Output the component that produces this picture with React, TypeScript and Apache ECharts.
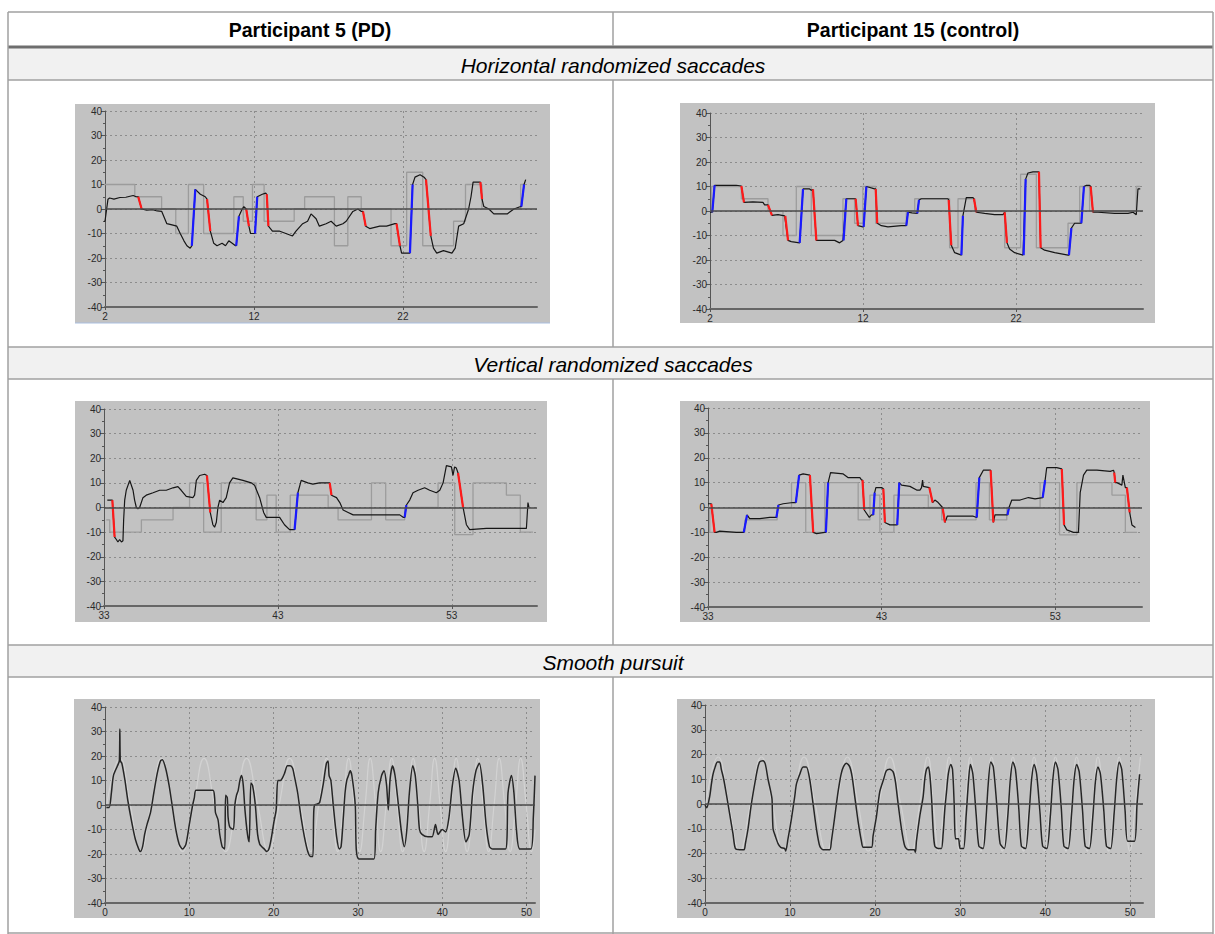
import { useEffect, useRef } from "react";
import * as echarts from "echarts";

type P = [number, number];
type S = [number, number, number, number];

const columnTitles = ["Participant 5 (PD)", "Participant 15 (control)"];
const rowTitles = ["Horizontal randomized saccades", "Vertical randomized saccades", "Smooth pursuit"];

// ---------- Horizontal randomized saccades, participant 5 (PD) ----------
const hTargetPD: P[] = [[1.86,10],[4.0,5],[5.8,0],[6.75,-10],[7.6,10],[8.62,-10],[10.65,5],[11.28,-5],[11.9,10],[12.68,-5],[14.7,0],[15.4,5],[17.4,-15],[18.3,5],[19.2,0],[21.2,-15],[22.25,15],[23.33,-15],[25.4,-5],[26.2,10],[27.3,0],[29.9,10],[30.15,10]];
const hEyePD: P[] = [[1.86,-5],[2.0,-5],[2.2,4],[2.31,4.5],[2.6,4],[3.0,4.7],[3.4,4.8],[3.89,5.5],[4.1,5],[4.23,5],[4.46,0],[4.8,-0.5],[5.2,-0.3],[5.5,-0.8],[5.81,-1],[6.15,-6],[6.5,-6.5],[6.82,-7],[7.05,-10],[7.3,-13],[7.5,-15],[7.72,-16],[7.83,-15],[8.06,8],[8.4,6],[8.73,5],[8.85,4],[9.07,-9],[9.3,-14],[9.52,-15],[9.86,-14],[10.09,-15],[10.31,-13],[10.54,-14],[10.76,-15],[10.81,-15],[10.99,-3],[11.21,0],[11.32,1],[11.48,0],[11.66,-7],[11.77,-10],[11.99,-10],[12.07,-10],[12.22,5],[12.56,6],[12.79,6.5],[12.86,6],[12.97,-7],[13.24,-9],[13.69,-9],[14.14,-10],[14.59,-11],[14.82,-9],[15.27,-6],[15.6,-5],[15.83,-2],[16.17,-4],[16.39,-7],[16.84,-6],[17.18,-5],[17.52,-7],[17.97,-6],[18.19,-5],[18.64,-1],[18.98,0],[19.21,-1],[19.32,-1],[19.5,-7],[19.77,-8],[20.45,-7],[20.9,-7],[21.46,-6],[21.57,-6],[21.8,-15],[21.91,-18],[22.47,-18],[22.65,10],[22.81,13],[23.15,14],[23.42,13],[23.55,12],[23.87,-11],[24.05,-16],[24.27,-18],[24.72,-17],[25.29,-18],[25.51,-16],[25.74,-7],[26.08,-6],[26.41,0],[26.57,5],[26.71,11],[27.2,11],[27.31,4],[27.43,1],[27.77,0],[28.1,-2],[29.0,-2],[29.45,0],[29.9,1],[29.95,1],[30.13,10],[30.24,12]];
const hRedPD: S[] = [[4.23,5,4.46,0],[8.85,4,9.07,-9],[11.48,0,11.66,-7],[12.86,6,12.97,-7],[19.32,-1,19.5,-7],[21.57,-6,21.8,-15],[23.55,12,23.87,-11],[27.2,11,27.31,4]];
const hBluePD: S[] = [[7.83,-15,8.06,8],[10.81,-15,10.99,-3],[12.07,-10,12.22,5],[22.47,-18,22.65,10],[29.95,1,30.13,10]];

// ---------- Horizontal randomized saccades, participant 15 (control) ----------
const hTargetCtl: P[] = [[2.0,0],[2.1,10],[4.05,5],[5.79,0],[6.77,-10],[7.64,10],[8.62,-10],[10.69,5],[11.45,-5],[11.99,10],[12.83,-5],[14.83,0],[15.38,5],[17.66,-15],[18.21,5],[19.3,0],[21.26,-15],[22.3,15],[23.33,-15],[25.4,-5],[26.16,10],[26.81,0],[29.86,10],[30.1,10]];
const hEyeCtl: P[] = [[2.0,-0.5],[2.15,-0.5],[2.3,10.5],[3.0,10.5],[3.72,10.5],[4.05,10.2],[4.22,3.5],[4.8,3.7],[5.46,3.5],[5.57,2.5],[5.79,2.5],[6.05,-1.8],[6.44,-1.5],[6.88,-2],[6.92,-2],[7.1,-12],[7.31,-12.5],[7.86,-13],[8.08,9],[8.51,9],[8.62,8.5],[8.73,8.8],[8.95,-12],[9.28,-12],[10.15,-12],[10.47,-13],[10.69,-12],[10.73,-12],[10.91,5],[11.45,5],[11.52,5],[11.67,-6],[11.99,-6.5],[12.04,-6.5],[12.22,10],[12.76,9],[12.83,9],[12.93,-5],[13.2,-6],[13.63,-6.5],[14.5,-6],[14.83,-6],[14.94,-0.5],[15.2,-0.8],[15.55,-1],[15.66,4.5],[15.81,5],[17.55,5],[17.6,4.5],[17.77,-14],[17.99,-17],[18.43,-18],[18.53,-2],[18.75,5.5],[19.19,5.5],[19.25,5],[19.41,-0.5],[19.95,-1],[20.6,-1.5],[21.15,-1.5],[21.26,-0.5],[21.41,-13],[21.58,-15.5],[21.91,-17],[22.46,-18],[22.5,-18],[22.63,13],[22.78,15.5],[23.11,16],[23.44,16],[23.5,16],[23.61,-15],[23.87,-16],[24.53,-17],[25.4,-18],[25.46,-18],[25.62,-7],[25.83,-5],[26.16,-5],[26.27,-5],[26.44,10],[26.6,10.5],[26.81,10.5],[26.88,10],[27.03,-0.5],[27.36,-0.5],[28.45,-1],[29.32,-1],[29.65,-0.5],[29.86,-1.5],[29.97,9],[30.12,9]];
const hRedCtl: S[] = [[4.05,10.2,4.22,3.5],[5.79,2.5,6.05,-1.8],[6.92,-2,7.1,-12],[8.73,8.8,8.95,-12],[11.52,5,11.67,-6],[12.83,9,12.93,-5],[17.6,4.5,17.77,-14],[19.25,5,19.41,-0.5],[21.26,-0.5,21.41,-13],[23.5,16,23.61,-15],[26.88,10,27.03,-0.5]];
const hBlueCtl: S[] = [[2.15,-0.5,2.3,10.5],[7.86,-13,8.08,9],[10.73,-12,10.91,5],[12.04,-6.5,12.22,10],[14.83,-6,14.94,-0.5],[15.55,-1,15.66,4.5],[18.43,-18,18.53,-2],[22.5,-18,22.63,13],[25.46,-18,25.62,-7],[26.27,-5,26.44,10]];

// ---------- Vertical randomized saccades, participant 5 (PD) ----------
const vTargetPD: P[] = [[33.13,-5],[33.33,-10],[35.15,-5],[36.97,0],[37.92,10],[38.73,-10],[39.74,10],[41.75,-5],[42.37,5],[42.9,-10],[43.71,5],[45.89,0],[46.46,-5],[48.38,10],[49.2,-5],[50.29,0],[52.21,10],[53.17,-11],[54.22,10],[56.14,5],[56.94,-10],[57.67,-10]];
const vEyePD: P[] = [[33.19,3],[33.48,3],[33.61,-12],[33.71,-13],[33.8,-14],[33.9,-13],[34.0,-14],[34.09,-13.5],[34.13,-5],[34.19,3],[34.28,7],[34.48,11],[34.67,7],[34.76,3],[34.86,0],[34.95,-0.5],[35.05,0],[35.24,4],[35.43,5],[35.82,6],[36.2,7],[36.58,7],[36.97,8],[37.25,8.5],[37.44,7],[37.73,4.5],[38.11,4],[38.21,5],[38.31,11],[38.5,13],[38.79,13.5],[38.92,13],[39.11,-2],[39.26,-7],[39.36,-8],[39.46,-6],[39.55,0],[39.65,3],[39.84,2],[40.03,4],[40.22,10],[40.41,12],[40.99,11],[41.47,10],[41.66,9],[41.95,4],[42.18,-2],[42.33,-4],[43.1,-4],[43.38,-7],[43.67,-9],[43.96,-9],[44.15,6],[44.34,11],[44.72,10],[45.01,9.5],[45.39,10],[45.89,10],[45.98,10],[46.08,5],[46.37,4],[46.56,2],[46.75,-1],[47.04,-2],[47.33,-3],[47.8,-3],[49.05,-3],[50.01,-3],[50.2,-4],[50.29,-4],[50.39,1],[50.58,3],[50.77,6],[51.06,7],[51.44,8],[51.73,7],[52.11,6],[52.31,7],[52.5,10],[52.69,17],[52.98,16.5],[53.07,13],[53.16,16.5],[53.26,16],[53.36,14],[53.65,0],[53.84,-7],[54.03,-9],[54.99,-8.5],[57.29,-8.5],[57.38,2],[57.44,0]];
const vRedPD: S[] = [[33.48,3,33.61,-12],[38.92,13,39.11,-2],[45.98,10,46.08,5],[53.36,14,53.65,0]];
const vBluePD: S[] = [[43.96,-9,44.15,6],[50.29,-4,50.39,1]];

// ---------- Vertical randomized saccades, participant 15 (control) ----------
const vTargetCtl: P[] = [[33.0,0],[33.1,-10],[35.12,-5],[36.98,0],[37.81,10],[38.63,-10],[39.73,10],[41.65,-5],[42.33,5],[42.9,-10],[43.71,5],[45.69,0],[46.46,-5],[48.44,10],[49.21,-5],[50.21,0],[52.13,10],[53.25,-11],[54.25,10],[56.27,5],[57.04,-10],[57.71,-10]];
const vEyeCtl: P[] = [[33.0,1.5],[33.19,1.5],[33.38,-10],[33.48,-10],[33.67,-9.5],[34.63,-10],[35.06,-10],[35.25,-3],[35.4,-4.5],[35.98,-4.5],[36.56,-4],[36.94,-4],[37.06,1],[37.33,1.5],[37.9,2],[38.06,2],[38.25,13],[38.48,13.5],[38.87,13],[39.06,-10],[39.25,-10.5],[39.73,-10],[39.79,-10],[39.92,10],[40.06,14],[40.79,13.5],[41.08,12],[41.75,12],[41.85,11],[41.9,11],[42.0,-1],[42.29,-4],[42.42,-3],[42.52,-3],[42.6,6],[42.67,8],[43.0,8],[43.1,7.5],[43.19,-6],[43.48,-7],[43.9,-7],[44.02,10],[44.15,9],[44.63,8.5],[45.02,7],[45.21,7],[45.3,8],[45.36,11],[45.4,8.5],[45.75,8],[45.94,2],[46.07,3],[46.26,2],[46.51,0],[46.65,-6],[46.78,-3.5],[48.28,-3.5],[48.48,-4],[48.63,12],[48.86,15],[49.28,15],[49.44,-6],[49.53,-3],[50.25,-3],[50.34,0],[50.5,3],[50.98,3],[51.46,4],[51.84,3.5],[52.28,4],[52.42,11],[52.51,16],[53.09,16],[53.38,15.5],[53.51,-7],[53.67,-9],[54.05,-10],[54.34,-10],[54.44,6],[54.63,13],[54.82,15],[55.4,15],[56.17,14.5],[56.36,15],[56.4,14],[56.46,10],[56.55,10],[56.84,9],[56.9,13],[57.04,8],[57.13,8],[57.29,-2],[57.42,-7],[57.62,-8]];
const vRedCtl: S[] = [[33.19,1.5,33.38,-10],[38.87,13,39.06,-10],[41.9,11,42.0,-1],[43.1,7.5,43.19,-6],[45.75,8,45.94,2],[46.51,0,46.65,-6],[49.28,15,49.44,-6],[53.38,15.5,53.51,-7],[56.4,14,56.46,10],[57.13,8,57.29,-2]];
const vBlueCtl: S[] = [[35.06,-10,35.25,-3],[36.94,-4,37.06,1],[38.06,2,38.25,13],[39.79,-10,39.92,10],[42.52,-3,42.6,6],[43.9,-7,44.02,10],[48.48,-4,48.63,12],[50.25,-3,50.34,0],[52.28,4,52.42,11]];

// ---------- Smooth pursuit, participant 5 (PD) ----------
const sTargetPD: P[] = [[0.2,0],[1.77,19],[3.0,0],[4.2,-19],[5.45,0],[6.7,19],[7.95,0],[9.2,-19],[10.5,0],[11.75,19],[13.0,0],[14.3,-19],[15.55,0],[16.8,19],[18.1,0],[19.4,-19],[20.65,0],[21.9,19],[23.15,0],[24.4,-19],[25.35,0],[26.3,19],[26.95,0],[27.6,-19],[28.25,0],[28.9,19],[29.55,0],[30.2,-19],[30.85,0],[31.45,19],[32.1,0],[32.7,-19],[33.35,0],[34.0,19],[34.65,0],[35.3,-19],[35.95,0],[36.55,19],[37.2,0],[37.85,-19],[38.5,0],[39.1,19],[39.75,0],[40.4,-19],[41.05,0],[41.65,19],[42.3,0],[42.95,-19],[43.6,0],[44.2,19],[44.85,0],[45.5,-19],[46.15,0],[46.75,19],[47.4,0],[48.05,-19],[48.7,0],[49.3,19],[49.95,0],[50.6,-19],[51.0,-10]];
const sEyePD: P[] = [[0.16,-1],[0.5,-1],[0.76,5],[1.0,12],[1.48,16],[1.7,18],[1.76,31],[1.82,18],[2.0,17],[2.37,10],[2.7,2],[3.17,-7],[3.6,-14],[4.0,-18],[4.2,-19],[4.46,-17],[4.7,-12],[4.98,-8],[5.4,-3],[5.79,5],[6.2,13],[6.58,18],[6.8,18.5],[7.19,15],[7.6,8],[8.0,-1],[8.4,-10],[8.8,-16],[9.2,-18],[9.6,-16],[10.0,-8],[10.4,0],[10.6,3],[10.8,6],[12.8,6],[13.0,3],[13.1,-3],[13.4,-6],[13.61,-12],[13.9,-17],[14.2,-18],[14.3,4],[14.5,3],[14.6,-5],[14.8,-9],[15.22,-10],[15.4,0],[15.6,4],[15.8,6],[16.0,10],[16.2,12],[16.4,8],[16.6,-2],[16.9,-12],[17.1,-15],[17.3,9],[17.5,8],[17.83,0],[18.1,-12],[18.35,-16],[18.6,-17],[18.9,-18],[19.2,-19],[19.44,-18],[19.7,-14],[20.03,-7],[20.3,-2],[20.5,10],[20.8,10],[21.04,11],[21.3,13],[21.64,16],[21.96,16],[22.25,15],[22.45,12],[22.85,5],[23.25,-5],[23.65,-13],[24.05,-19],[24.37,-21],[24.65,-21],[24.74,-5],[24.85,0],[25.26,0.5],[25.46,1],[25.86,8],[26.26,17],[26.46,18],[26.58,12],[26.79,10],[27.07,0],[27.47,-13],[27.79,-18],[28.0,-17],[28.27,-5],[28.47,5],[28.67,10],[28.88,12],[29.08,14],[29.28,12],[29.68,0],[29.8,-18],[30.1,-22],[31.9,-22],[32.1,-10],[32.4,5],[32.8,12],[33.1,14],[33.4,8],[33.6,-2],[33.8,10],[34.1,16],[34.4,12],[34.8,0],[35.2,-12],[35.5,-17],[35.8,-10],[36.1,5],[36.5,16],[36.8,12],[37.1,0],[37.3,-10],[37.6,-12],[38.3,-13],[38.8,-13],[39.2,-8],[39.5,-12],[40.0,-10],[40.4,-11],[40.8,-5],[41.2,8],[41.6,15],[42.0,10],[42.4,-5],[42.8,-15],[43.2,-12],[43.6,5],[44.0,14],[44.4,17],[44.8,8],[45.2,-8],[45.6,-17],[46.0,-18],[47.5,-18],[47.8,5],[48.2,12],[48.5,5],[48.8,-10],[49.2,-18],[50.5,-18],[50.8,-5],[51.0,12]];

// ---------- Smooth pursuit, participant 15 (control) ----------
const sTargetCtl: P[] = [[0.1,0],[1.53,19],[2.8,0],[4.08,-19],[5.35,0],[6.63,19],[7.9,0],[9.18,-19],[10.4,0],[11.65,19],[12.95,0],[14.27,-19],[15.5,0],[16.75,19],[18.0,0],[19.2,-19],[20.45,0],[21.73,19],[23.0,0],[24.27,-19],[25.25,0],[26.2,19],[26.85,0],[27.45,-19],[28.1,0],[28.7,19],[29.35,0],[29.95,-19],[30.6,0],[31.2,19],[31.85,0],[32.45,-19],[33.1,0],[33.7,19],[34.35,0],[34.95,-19],[35.6,0],[36.2,19],[36.85,0],[37.45,-19],[38.1,0],[38.7,19],[39.35,0],[39.95,-19],[40.6,0],[41.2,19],[41.85,0],[42.45,-19],[43.1,0],[43.7,19],[44.35,0],[44.95,-19],[45.6,0],[46.2,19],[46.85,0],[47.45,-19],[48.1,0],[48.7,19],[49.35,0],[49.95,-19],[50.6,0],[51.2,19]];
const sEyeCtl: P[] = [[0,-0.5],[0.2,-1.5],[0.55,3],[0.75,8],[0.94,12],[1.2,15],[1.45,17],[1.73,17],[1.92,14],[2.2,10],[2.51,4],[2.9,-4],[3.29,-12],[3.57,-18],[4.08,-18.5],[4.59,-18.5],[4.75,-16],[5.06,-10],[5.45,0],[5.84,8],[6.16,14],[6.43,17],[6.82,17.5],[7.1,16],[7.41,10],[7.73,5],[7.88,2],[8.0,-10],[8.27,-13],[8.59,-16],[8.9,-17.5],[9.37,-18],[9.49,-19],[9.76,-14],[10.16,-6],[10.55,3],[10.75,8],[11.14,12],[11.53,15],[11.92,15],[12.31,10],[12.71,0],[13.1,-10],[13.49,-17],[13.88,-18.5],[14.67,-18.5],[14.86,-15],[15.26,-5],[15.65,5],[16.0,12],[16.27,15],[16.63,16.5],[17.02,15],[17.3,11],[17.61,3],[18.0,-7],[18.39,-15],[18.6,-17.5],[19.57,-17.5],[19.76,-13],[20.16,-5],[20.55,5],[21.0,10],[21.33,13.5],[21.73,14],[22.12,13],[22.39,9],[22.71,0],[23.1,-10],[23.49,-17],[23.88,-18.5],[24.6,-18.5],[24.74,-19.5],[24.86,-15],[25.25,-5],[25.65,3],[25.84,10],[26.04,14],[26.27,15],[26.43,12],[26.63,3],[26.82,-10],[27.02,-17],[27.41,-18],[27.8,-18],[28.0,-12],[28.2,-2],[28.4,5],[28.6,12],[28.9,16],[29.1,14],[29.3,0],[29.45,-14],[29.8,-14],[30.0,-18],[30.4,-18],[30.7,-5],[31.0,10],[31.2,16],[31.5,12],[31.9,-5],[32.2,-17],[32.7,-18],[33.0,-8],[33.3,8],[33.6,17],[33.9,15],[34.3,0],[34.7,-16],[35.2,-18],[35.6,-5],[35.9,10],[36.2,17],[36.5,14],[36.9,-2],[37.2,-17],[37.7,-18],[38.1,-4],[38.4,10],[38.7,16],[39.0,12],[39.4,-4],[39.7,-17],[40.2,-18],[40.6,-5],[40.9,10],[41.2,17],[41.5,14],[41.9,-2],[42.2,-17],[42.7,-18],[43.1,-4],[43.4,10],[43.7,16],[44.0,13],[44.4,-3],[44.7,-17],[45.2,-18],[45.6,-5],[45.9,9],[46.2,15],[46.5,12],[46.9,-3],[47.2,-17],[47.7,-18],[48.1,-4],[48.4,10],[48.7,17],[49.0,14],[49.4,-3],[49.7,-15],[50.5,-15],[50.8,0],[51.1,12]];

const FONT = "Arial, 'Liberation Sans', Helvetica, sans-serif";

function segData(segs: S[]) {
  const out: any[] = [];
  segs.forEach(([a, b, c, d]) => {
    out.push([a, b], [c, d], [c, "-"]);
  });
  return out;
}

const panels = [
  { grid: { left: 105, top: 111, width: 432, height: 196 }, bg: [75, 104, 475, 219], xMin: 2, xMax: 31, target: hTargetPD, eye: hEyePD, red: hRedPD, blue: hBluePD, pursuit: false },
  { grid: { left: 710, top: 113, width: 433, height: 196 }, bg: [680, 103, 475, 220], xMin: 2, xMax: 30.3, target: hTargetCtl, eye: hEyeCtl, red: hRedCtl, blue: hBlueCtl, pursuit: false },
  { grid: { left: 104, top: 409, width: 433, height: 197 }, bg: [75, 401, 472, 221], xMin: 33, xMax: 57.9, target: vTargetPD, eye: vEyePD, red: vRedPD, blue: vBluePD, pursuit: false },
  { grid: { left: 708, top: 408, width: 434, height: 199 }, bg: [680, 401, 470, 221], xMin: 33, xMax: 58, target: vTargetCtl, eye: vEyeCtl, red: vRedCtl, blue: vBlueCtl, pursuit: false },
  { grid: { left: 105, top: 707, width: 430, height: 196 }, bg: [74, 699, 466, 219], xMin: 0, xMax: 51, target: sTargetPD, eye: sEyePD, red: [] as S[], blue: [] as S[], pursuit: true },
  { grid: { left: 705, top: 705, width: 438, height: 198 }, bg: [677, 699, 478, 219], xMin: 0, xMax: 51.5, target: sTargetCtl, eye: sEyeCtl, red: [] as S[], blue: [] as S[], pursuit: true },
];

const TABLE = "#a0a0a0";

function buildOption() {
  const grid: any[] = [];
  const xAxis: any[] = [];
  const yAxis: any[] = [];
  const series: any[] = [];
  const graphic: any[] = [];

  panels.forEach((p, i) => {
    grid.push({ ...p.grid, show: false, containLabel: false });
    xAxis.push({
      type: "value", gridIndex: i, min: p.xMin, max: p.xMax, interval: 10,
      axisLine: { show: true, onZero: false, lineStyle: { color: "#666", width: 2 } },
      axisTick: { show: true, length: 3, lineStyle: { color: "#555" } },
      axisLabel: { fontSize: 10, color: "#2a2a2a", margin: 4, showMaxLabel: false, fontFamily: FONT },
      splitLine: { show: true, showMinLine: false, showMaxLine: false, lineStyle: { color: "#8c8c8c", type: [2, 3], width: 1 } },
    });
    yAxis.push({
      type: "value", gridIndex: i, min: -40, max: 40, interval: 10,
      axisLine: { show: true, onZero: false, lineStyle: { color: "#555", width: 1 } },
      axisTick: { show: true, length: 4, lineStyle: { color: "#555" } },
      minorTick: { show: true, splitNumber: 2, length: 2, lineStyle: { color: "#555" } },
      axisLabel: { fontSize: 10, color: "#2a2a2a", margin: 3, fontFamily: FONT },
      splitLine: { show: true, showMinLine: false, lineStyle: { color: "#8c8c8c", type: [2, 3], width: 1 } },
    });
    series.push({
      type: "line", xAxisIndex: i, yAxisIndex: i, data: p.target, showSymbol: false, silent: true,
      step: p.pursuit ? false : "end", smooth: p.pursuit ? 0.5 : false, z: 2,
      lineStyle: { color: p.pursuit ? "#d2d2d2" : "#9c9c9c", width: p.pursuit ? 1.2 : 1.3 },
      markLine: {
        silent: true, symbol: ["none", "none"], label: { show: false },
        lineStyle: { type: "solid", color: "#4a4a4a", width: 1.5 },
        data: [{ yAxis: 0 }],
      },
    });
    series.push({
      type: "line", xAxisIndex: i, yAxisIndex: i, data: p.eye, showSymbol: false, silent: true,
      smooth: p.pursuit ? 0.25 : false, z: 3,
      lineStyle: { color: p.pursuit ? "#262626" : "#161616", width: p.pursuit ? 1.5 : 1.2 },
    });
    if (p.red.length) {
      series.push({
        type: "line", xAxisIndex: i, yAxisIndex: i, data: segData(p.red), showSymbol: false, silent: true,
        connectNulls: false, z: 4, lineStyle: { color: "#ff1a1a", width: 2.2 },
      });
    }
    if (p.blue.length) {
      series.push({
        type: "line", xAxisIndex: i, yAxisIndex: i, data: segData(p.blue), showSymbol: false, silent: true,
        connectNulls: false, z: 4, lineStyle: { color: "#1a1aff", width: 2.2 },
      });
    }
    const [bx, by, bw, bh] = p.bg;
    graphic.push({ type: "rect", z: -10, silent: true, shape: { x: bx, y: by, width: bw, height: bh }, style: { fill: "#c2c2c2" } });
  });

  // light blue bottom edge of the first panel
  graphic.push({ type: "line", z: 50, silent: true, shape: { x1: 75, y1: 323, x2: 550, y2: 323 }, style: { stroke: "#aabfe0", lineWidth: 1 } });

  // table: sub-header bands
  const bands = [[48, 80], [347, 379], [645, 677]];
  bands.forEach(([y1, y2], k) => {
    graphic.push({ type: "rect", z: -20, silent: true, shape: { x: 8, y: y1, width: 1205, height: y2 - y1 }, style: { fill: "#f1f1f1" } });
    graphic.push({
      type: "text", z: 100, silent: true, x: 613, y: (y1 + y2) / 2 + 1,
      style: { text: rowTitles[k], fill: "#000", font: `italic 21px ${FONT}`, align: "center", verticalAlign: "middle" },
    });
  });
  // table lines
  const hl = (y: number, color = TABLE, w = 1.5) => graphic.push({ type: "line", z: 100, silent: true, shape: { x1: 8, y1: y, x2: 1213, y2: y }, style: { stroke: color, lineWidth: w } });
  const vl = (x: number, y1: number, y2: number) => graphic.push({ type: "line", z: 100, silent: true, shape: { x1: x, y1, x2: x, y2 }, style: { stroke: TABLE, lineWidth: 1.5 } });
  hl(12);
  hl(47, "#6e6e6e", 3);
  hl(80);
  hl(347);
  hl(379);
  hl(645);
  hl(677);
  hl(933);
  vl(8, 12, 934);
  vl(1213, 12, 934);
  vl(613, 12, 46);
  vl(613, 80, 347);
  vl(613, 379, 645);
  vl(613, 677, 934);
  // column headers
  [310, 913].forEach((cx, k) => {
    graphic.push({
      type: "text", z: 100, silent: true, x: cx, y: 30,
      style: { text: columnTitles[k], fill: "#000", font: `bold 19.5px ${FONT}`, align: "center", verticalAlign: "middle" },
    });
  });

  return { animation: false, backgroundColor: "#ffffff", grid, xAxis, yAxis, series, graphic };
}

export default function App() {
  const ref = useRef<HTMLDivElement>(null);
  useEffect(() => {
    if (!ref.current) return;
    const chart = echarts.init(ref.current, undefined, { renderer: "svg" });
    chart.setOption(buildOption() as any);
    return () => chart.dispose();
  }, []);
  return <div ref={ref} style={{ position: "absolute", left: 0, top: 0, width: 1215, height: 934 }} />;
}
